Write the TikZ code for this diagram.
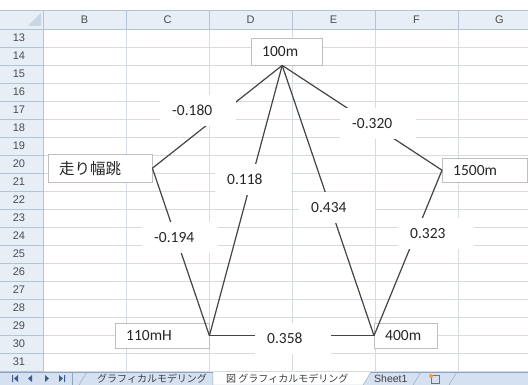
\documentclass[tikz,border=0pt]{standalone}
\usepackage{fontspec}
\setmainfont{Carlito}
\newfontfamily\jpfont{Noto Sans CJK JP}
\newfontfamily\uifont{Liberation Sans}
\usetikzlibrary{positioning,calc}
\definecolor{GridLine}{HTML}{D5DBE4}
\definecolor{HeadFill}{HTML}{E8EEF6}
\definecolor{HeadLine}{HTML}{B3C3D7}
\definecolor{BoxLine}{HTML}{BFBFBF}
\definecolor{LinkGray}{HTML}{444444}
\definecolor{TextDark}{HTML}{262626}
\definecolor{TabFill}{HTML}{D5E1F0}
\definecolor{TabLine}{HTML}{8DA3BF}
\definecolor{NavBlue}{HTML}{3E5C8A}
\tikzset{
  varbox/.style={draw=BoxLine,fill=white,anchor=north west,inner xsep=11pt,inner ysep=0pt,
    align=left,text=TextDark,font=\fontsize{15.5}{18}\selectfont},
  corrbox/.style={fill=white,anchor=north west,inner xsep=12pt,inner ysep=0pt,minimum height=31pt,
    text width=52pt,align=left,text=TextDark,font=\fontsize{15.5}{18}\selectfont},
  linkline/.style={draw=LinkGray,line width=1.2pt},
  headtxt/.style={text=black!70,font=\uifont\fontsize{11}{12}\selectfont},
  tabtxt/.style={text=black!75,font=\jpfont\fontsize{10}{11}\selectfont,inner sep=0pt}
}

\begin{document}
\begin{tikzpicture}[x=1pt,y=-1pt]
        \useasboundingbox (0,0) rectangle (528,385);
        \fill[white] (0,0) rectangle (528,385);
        % sheet cells
        \foreach \gx in {126,209,292,375,458}
          \draw[GridLine] (\gx,29) -- (\gx,372);
        \foreach \gr in {1,...,19}
          \draw[GridLine] (43,29+18*\gr) -- (528,29+18*\gr);
        % column and row headers
        \fill[HeadFill] (0,10) rectangle (528,29);
        \fill[HeadFill] (0,29) rectangle (43,372);
        \draw[HeadLine] (0,10) -- (528,10) (0,29) -- (528,29) (43,10) -- (43,372);
        \foreach \gx in {126,209,292,375,458}
          \draw[HeadLine] (\gx,10) -- (\gx,29);
        \foreach \gr in {1,...,19}
          \draw[HeadLine] (0,29+18*\gr) -- (43,29+18*\gr);
        \fill[HeadLine!70] (41,13) -- (41,26) -- (28,26) -- cycle;
        \foreach \col [count=\i from 0] in {B,C,D,E,F,G}
          \node[headtxt] at (84.5+83*\i,19.5) {\col};
        \foreach \row in {13,...,31}
          \node[headtxt] at (19,18*\row-196) {\row};

        % variables
        \node[varbox,text width=49pt,minimum height=27pt] (v100) at (251,38) {100m};
        \node[varbox,text width=82pt,minimum height=28pt] (vjump) at (48,154) {\jpfont 走り幅跳};
        \node[varbox,text width=63pt,minimum height=24pt] (v1500) at (442,158) {1500m};
        \node[varbox,text width=72pt,minimum height=25pt] (v110) at (115,323) {110mH};
        \node[varbox,text width=41pt,minimum height=25pt] (v400) at (374,323) {400m};

        % partial correlations
        \draw[linkline] ([xshift=-4.5pt]v100.south) -- (vjump.east);
        \draw[linkline] ([xshift=-4.5pt]v100.south) -- (v1500.west);
        \draw[linkline] ([xshift=-4.5pt]v100.south) -- (v110.east);
        \draw[linkline] ([xshift=-4.5pt]v100.south) -- (v400.west);
        \draw[linkline] (vjump.east) -- (v110.east);
        \draw[linkline] (v1500.west) -- (v400.west);
        \draw[linkline] (v110.east) -- (v400.west);
        \node[corrbox] (c100jump) at (160,95) {-0.180};
        \node[corrbox] (c1001500) at (340,108) {-0.320};
        \node[corrbox] (c100110) at (215,164) {0.118};
        \node[corrbox] (cjump110) at (142,222) {-0.194};
        \node[corrbox] (c100400) at (299,192) {0.434};
        \node[corrbox] (c1500400) at (398,218) {0.323};
        \node[corrbox] (c110400) at (255,323) {0.358};

        % sheet tabs
        \fill[TabFill] (0,372) rectangle (528,385);
        \draw[TabLine] (0,372) -- (528,372);
        \fill[NavBlue] (12,375) rectangle (13,382) (18,375) -- (18,382) -- (14,378.5) -- cycle;
        \fill[NavBlue] (32,375) -- (32,382) -- (28,378.5) -- cycle;
        \fill[NavBlue] (45,375) -- (45,382) -- (49,378.5) -- cycle;
        \fill[NavBlue] (59,375) -- (59,382) -- (63,378.5) -- cycle (64,375) rectangle (65,382);
        \draw[TabLine] (72,372) -- (72,385);
        \draw[TabLine] (79,385) -- (87,372) (213,372) -- (213,385);
        \filldraw[fill=white,draw=TabLine] (213,372) -- (213,385) -- (363,385) -- (371,372);
        \node[tabtxt,anchor=west] (tab1) at (97,378.5) {グラフィカルモデリング};
        \node[tabtxt,anchor=west] (tab2) at (226,378.5) {図 グラフィカルモデリング};
        \node[tabtxt,anchor=west,font=\uifont\fontsize{10.5}{11}\selectfont] (tab3) at (374,378.5) {Sheet1};
        \draw[TabLine] (413,385) -- (421,372) (449,385) -- (457,372);
        \draw[black!55] (431,375) rectangle (439,383);
        \fill[orange!80] (431,376) circle (2pt);
\end{tikzpicture}
\end{document}
